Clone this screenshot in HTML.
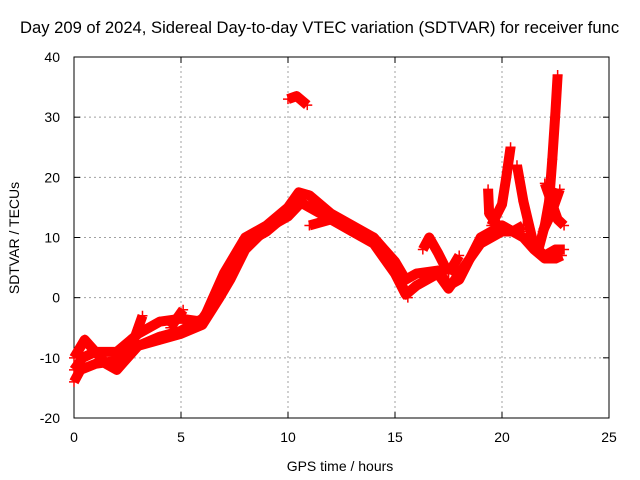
<!DOCTYPE html>
<html><head><meta charset="utf-8"><style>
body{margin:0;background:#fff}
svg{display:block;font-family:"Liberation Sans",sans-serif}
</style></head><body>
<svg id="chart" width="640" height="480">
<rect width="640" height="480" fill="#fff"/>
<text x="20" y="33" font-size="16.6">Day 209 of 2024, Sidereal Day-to-day VTEC variation (SDTVAR) for receiver func</text>
<g id="grid"></g><g id="axes"></g><g id="marks"></g>
<text x="340" y="471" font-size="14" text-anchor="middle">GPS time / hours</text>
<text x="19" y="238" font-size="14" text-anchor="middle" transform="rotate(-90 19 238)">SDTVAR / TECUs</text>
</svg>
<script>
const xTicks=[0,5,10,15,20,25];
const yTicks=[-20,-10,0,10,20,30,40];
const seriesA=[[0,-14],[0.3,-12],[1,-11],[2,-10.5],[3,-8],[4,-6.5],[5,-5.5],[6,-3.5],[6.5,-1],[7,2],[7.5,5],[8,9],[9,11],[10,14],[10.5,16],[11,15],[12,13],[13,11],[14,9],[14.6,6],[15,4],[15.5,0.5],[16,2],[17,4],[17.5,1.5],[18,4],[19,9],[20,11],[21,11]];
const seriesB=[[0,-10],[0.5,-7],[1,-9],[2,-9],[3,-6],[4,-4],[5,-3.5],[6,-4],[6.5,0],[7,4],[7.5,7],[8,10],[9,12],[10,15],[10.5,17.5],[11,17],[12,14],[13,12],[14,10],[14.5,8],[15,6],[15.5,3],[16,4],[17,4.5],[17.5,2],[18,3],[19,10],[20,12],[20.5,11],[21,12]];
const seriesC=[[0,-12],[0.4,-10],[1,-9],[1.5,-11],[2,-12],[2.5,-10],[3,-8],[4,-7],[5,-6],[6,-4.5],[6.8,0],[7.3,3],[8,8],[9,11.5],[10,13.5],[10.8,16.5]];
const seriesD=[[2.6,-9],[3,-5],[3.2,-3]];
const seriesE=[[4.5,-5],[5,-2.5],[5.1,-2]];
const seriesF=[[10,33],[10.4,33.5],[10.9,32]];
const seriesG=[[11,12],[12,13],[13,11.5],[14,10],[14.7,7],[15.2,3],[15.6,0]];
const seriesH=[[16.3,8],[16.6,10],[17,7.5],[17.5,4]];
const seriesI=[[17.5,4],[18,7]];
const seriesJ=[[19.5,12],[20,15.5],[20.2,20],[20.4,25]];
const seriesK=[[19.35,18],[19.4,14],[20,11]];
const seriesL=[[20.7,22],[21,16],[21.5,8.5],[22,7],[22.5,8],[22.9,8]];
const seriesM=[[20,12],[21,10],[21.5,8],[22,6.5],[22.5,6.5],[22.8,7]];
const seriesN=[[21.7,8],[22,12],[22.2,16],[22.35,23],[22.5,31],[22.6,37]];
const seriesO=[[22,19],[22.3,16],[22.6,13],[22.9,12]];
const seriesP=[[21.9,11],[22.3,14],[22.7,18]];
const allSeries=[seriesA,seriesB,seriesC,seriesD,seriesE,seriesF,seriesG,seriesH,seriesI,seriesJ,seriesK,seriesL,seriesM,seriesN,seriesO,seriesP];
const X0=74,X1=609,Y0=418,Y1=57;
const sx=v=>X0+(v-0)/(25-0)*(X1-X0);
const sy=v=>Y0-(v+20)/(40+20)*(Y0-Y1);
const NS="http://www.w3.org/2000/svg";
function mk(tag,attrs,parent){const e=document.createElementNS(NS,tag);for(const k in attrs)e.setAttribute(k,attrs[k]);parent.appendChild(e);return e;}
const grid=document.getElementById('grid'),axes=document.getElementById('axes'),marks=document.getElementById('marks');
xTicks.forEach(t=>{
 if(t>0&&t<25){const l=mk('line',{x1:sx(t),x2:sx(t),y1:Y0,y2:Y1,stroke:'#a0a0a0','stroke-dasharray':'2,3'},grid);
 
 }
 mk('line',{x1:sx(t),x2:sx(t),y1:Y0,y2:Y0-6,stroke:'#000'},axes);
 mk('line',{x1:sx(t),x2:sx(t),y1:Y1,y2:Y1+6,stroke:'#000'},axes);
 const tx=mk('text',{x:sx(t),y:Y0+24,'font-size':14,'text-anchor':'middle'},axes);tx.textContent=t;
 
 
});
yTicks.forEach(t=>{
 if(t>-20&&t<40){const l=mk('line',{x1:X0,x2:X1,y1:sy(t),y2:sy(t),stroke:'#a0a0a0','stroke-dasharray':'2,3'},grid);
 
 }
 mk('line',{x1:X0,x2:X0+6,y1:sy(t),y2:sy(t),stroke:'#000'},axes);
 mk('line',{x1:X1,x2:X1-6,y1:sy(t),y2:sy(t),stroke:'#000'},axes);
 const tx=mk('text',{x:X0-14,y:sy(t)+5,'font-size':14,'text-anchor':'end'},axes);tx.textContent=t;
 
 
});
const fr=mk('rect',{x:X0,y:Y1,width:X1-X0,height:Y0-Y1,fill:'none',stroke:'#000'},axes);


allSeries.forEach((s,i)=>{
 const g=mk('g',{},marks);
 
 
 mk('polyline',{points:s.map(p=>sx(p[0])+','+sy(p[1])).join(' '),fill:'none',stroke:'#f00','stroke-width':10,'stroke-linejoin':'round','stroke-linecap':'butt'},g);
 s.forEach(p=>{
  const m=mk('path',{d:`M${sx(p[0])-5},${sy(p[1])}h10M${sx(p[0])},${sy(p[1])-5}v10`,stroke:'#f00','stroke-width':1.5},g);
  
  
 });
});
</script>
</body></html>
